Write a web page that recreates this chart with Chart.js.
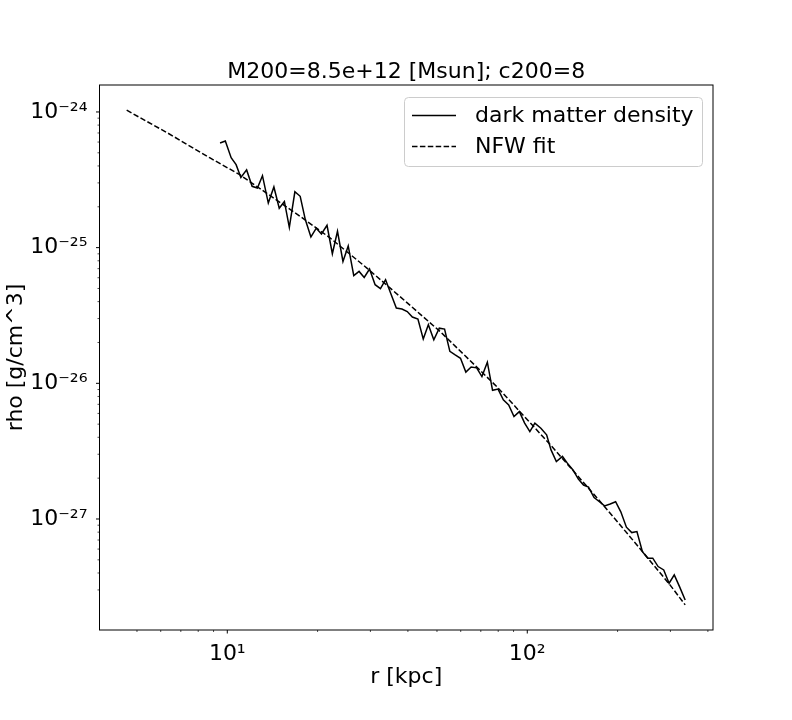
<!DOCTYPE html>
<html>
<head>
<meta charset="utf-8">
<title>Dark matter density profile</title>
<script src="https://cdn.jsdelivr.net/npm/chart.js@4.4.1/dist/chart.umd.min.js"></script>
<style>
  html, body { margin: 0; padding: 0; background: #fff; }
  canvas { display: block; }
</style>
</head>
<body>
<canvas id="profileChart" width="792" height="720"></canvas>
<script>
var radius = [
  9.46, 9.85, 10.3, 10.7, 11.1, 11.6, 12.1, 12.6, 13.1, 13.7,
  14.3, 14.9, 15.5, 16.1, 16.8, 17.5, 18.2, 19.0, 19.8, 20.6,
  21.5, 22.4, 23.3, 24.3, 25.3, 26.4, 27.5, 28.6, 29.8, 31.1,
  32.4, 33.7, 35.2, 36.6, 38.2, 39.8, 41.4, 43.2, 45.0, 46.8,
  48.8, 50.9, 53.0, 55.2, 57.5, 59.9, 62.4, 65.0, 67.8, 70.6,
  73.6, 76.6, 79.9, 83.2, 86.7, 90.3, 94.1, 98.0, 102, 106,
  111, 116, 120, 125, 131, 136, 142, 148, 154, 160,
  167, 174, 181, 189, 197, 205, 214, 223, 232, 242,
  252, 262, 273, 285, 297, 309, 322, 336
];
var density = [
  5.91e-25, 6.11e-25, 4.60e-25, 4.09e-25, 3.29e-25, 3.74e-25, 2.83e-25, 2.75e-25, 3.39e-25, 2.13e-25,
  2.80e-25, 1.95e-25, 2.19e-25, 1.41e-25, 2.58e-25, 2.39e-25, 1.61e-25, 1.20e-25, 1.39e-25, 1.26e-25,
  1.46e-25, 9.02e-26, 1.32e-25, 7.91e-26, 1.03e-25, 6.21e-26, 6.68e-26, 6.03e-26, 6.96e-26, 5.33e-26,
  4.98e-26, 5.80e-26, 4.49e-26, 3.59e-26, 3.53e-26, 3.38e-26, 3.08e-26, 2.97e-26, 2.12e-26, 2.70e-26,
  2.09e-26, 2.55e-26, 2.51e-26, 1.72e-26, 1.62e-26, 1.53e-26, 1.21e-26, 1.32e-26, 1.30e-26, 1.12e-26,
  1.43e-26, 8.88e-27, 9.06e-27, 7.55e-27, 6.94e-27, 5.69e-27, 6.19e-27, 5.09e-27, 4.41e-27, 5.09e-27,
  4.67e-27, 4.17e-27, 3.23e-27, 2.65e-27, 2.89e-27, 2.58e-27, 2.30e-27, 1.97e-27, 1.78e-27, 1.72e-27,
  1.44e-27, 1.34e-27, 1.25e-27, 1.29e-27, 1.34e-27, 1.13e-27, 8.70e-28, 7.94e-28, 8.07e-28, 5.75e-28,
  5.14e-28, 5.14e-28, 4.46e-28, 4.21e-28, 3.36e-28, 3.87e-28, 3.16e-28, 2.53e-28
];

// NFW fit curve
var fitRadius = [4.62, 6.34, 8.76, 11.0, 17.5, 22.0, 29.2, 37.6, 51.2, 79.1, 105, 119, 144, 179, 232, 299, 336];
var fitDensity = [
  1.03e-24, 6.98e-25, 4.58e-25, 3.45e-25, 1.70e-25, 1.18e-25, 7.07e-26, 4.37e-26, 2.41e-26,
  9.47e-27, 4.80e-27, 3.55e-27, 2.20e-27, 1.27e-27, 6.44e-28, 3.27e-28, 2.33e-28
];

var chartTitle = "M200=8.5e+12 [Msun]; c200=8";
var xLabel = "r [kpc]";
var yLabel = "rho [g/cm^3]";
var seriesLabels = ["dark matter density", "NFW fit"];

var SUP = { "-": "\u207b", "0": "\u2070", "1": "\u00b9", "2": "\u00b2", "3": "\u00b3", "4": "\u2074",
  "5": "\u2075", "6": "\u2076", "7": "\u2077", "8": "\u2078", "9": "\u2079" };

function powerLabel(v) {
  var e = Math.round(Math.log10(v));
  if (Math.abs(v / Math.pow(10, e) - 1) > 1e-6) return "";
  return "10" + String(e).split("").map(function (c) { return SUP[c]; }).join("");
}

function toPoints(xs, ys) {
  return xs.map(function (x, i) { return { x: x, y: ys[i] }; });
}

// matplotlib-like frame, outward ticks and legend box
var mplDecor = {
  id: "mplDecor",
  afterDraw: function (chart) {
    var ctx = chart.ctx;
    var a = chart.chartArea;
    ctx.save();
    ctx.strokeStyle = "#000";
    ctx.lineWidth = 1;
    ctx.strokeRect(a.left, a.top, a.right - a.left, a.bottom - a.top);

    ["x", "y"].forEach(function (id) {
      var scale = chart.scales[id];
      scale.ticks.forEach(function (t) {
        var v = t.value;
        var e = Math.floor(Math.log10(v) + 1e-9);
        var m = v / Math.pow(10, e);
        if (Math.abs(m - Math.round(m)) > 1e-6) return;
        var major = Math.round(m) === 1 || Math.round(m) === 10;
        var len = major ? 3.5 : 2;
        var p = scale.getPixelForValue(v);
        ctx.lineWidth = major ? 1 : 0.7;
        ctx.beginPath();
        if (id === "x") {
          if (p < a.left - 0.5 || p > a.right + 0.5) return;
          ctx.moveTo(p, a.bottom);
          ctx.lineTo(p, a.bottom + len);
        } else {
          if (p < a.top - 0.5 || p > a.bottom + 0.5) return;
          ctx.moveTo(a.left - len, p);
          ctx.lineTo(a.left, p);
        }
        ctx.stroke();
      });
    });

    // legend
    var bx = 404.5, by = 97.5, bw = 298, bh = 69, r = 4;
    ctx.beginPath();
    ctx.moveTo(bx + r, by);
    ctx.arcTo(bx + bw, by, bx + bw, by + bh, r);
    ctx.arcTo(bx + bw, by + bh, bx, by + bh, r);
    ctx.arcTo(bx, by + bh, bx, by, r);
    ctx.arcTo(bx, by, bx + bw, by, r);
    ctx.closePath();
    ctx.fillStyle = "rgba(255,255,255,0.8)";
    ctx.fill();
    ctx.strokeStyle = "#cccccc";
    ctx.lineWidth = 1;
    ctx.stroke();

    ctx.font = "22px 'DejaVu Sans'";
    ctx.textBaseline = "middle";
    ctx.textAlign = "left";
    chart.data.datasets.forEach(function (ds, i) {
      var rowY = 115.5 + i * 31;
      ctx.strokeStyle = ds.borderColor;
      ctx.lineWidth = ds.borderWidth;
      ctx.setLineDash(ds.borderDash || []);
      ctx.beginPath();
      ctx.moveTo(412, rowY);
      ctx.lineTo(456, rowY);
      ctx.stroke();
      ctx.setLineDash([]);
      ctx.fillStyle = "#000";
      ctx.fillText(ds.label, 475, rowY + 1);
    });
    ctx.restore();
  }
};

Chart.defaults.font.family = "'DejaVu Sans'";
Chart.defaults.font.size = 22;
Chart.defaults.color = "#000";

var ctx = document.getElementById("profileChart").getContext("2d");
var profileChart = new Chart(ctx, {
  type: "line",
  data: {
    datasets: [
      {
        label: seriesLabels[0],
        data: toPoints(radius, density),
        borderColor: "#000",
        borderWidth: 1.5,
        pointRadius: 0,
        fill: false,
        tension: 0,
      },
      {
        label: seriesLabels[1],
        data: toPoints(fitRadius, fitDensity),
        borderColor: "#000",
        borderWidth: 1.5,
        borderDash: [5.5, 2.4],
        pointRadius: 0,
        fill: false,
        tension: 0,
      },
    ],
  },
  options: {
    responsive: false,
    animation: false,
    devicePixelRatio: 1,
    events: [],
    layout: { padding: { top: 40, right: 79, bottom: 0, left: 0 } },
    plugins: {
      legend: { display: false },
      tooltip: { enabled: false },
      title: {
        display: true,
        text: chartTitle,
        fullSize: false,
        font: { size: 22, weight: "normal", lineHeight: 1.0 },
        padding: { top: 21, bottom: 2 },
      },
    },
    scales: {
      x: {
        type: "logarithmic",
        min: 3.75,
        max: 416,
        grid: { display: false },
        border: { display: false },
        ticks: {
          autoSkip: false,
          maxRotation: 0,
          padding: 3,
          callback: function (v) { return powerLabel(v); },
        },
        title: { display: true, text: xLabel, padding: { top: 0, bottom: 30 } },
        afterFit: function (scale) { scale.height = 90; },
      },
      y: {
        type: "logarithmic",
        min: 1.52e-28,
        max: 1.58e-24,
        grid: { display: false },
        border: { display: false },
        ticks: {
          autoSkip: false,
          padding: 4,
          callback: function (v) { return powerLabel(v); },
        },
        title: { display: true, text: yLabel, padding: { top: 3, bottom: 0 } },
        afterFit: function (scale) { scale.width = 99.5; },
      },
    },
  },
  plugins: [mplDecor],
});
</script>
</body>
</html>
